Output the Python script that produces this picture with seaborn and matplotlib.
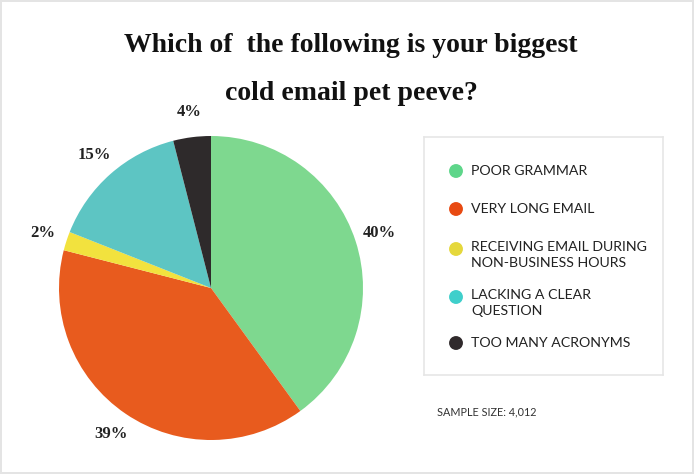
import matplotlib
matplotlib.use("Agg")
import matplotlib.pyplot as plt
import seaborn as sns

# ── data ──────────────────────────────────────────────────────────────────────
categories = [
    "POOR GRAMMAR",
    "VERY LONG EMAIL",
    "RECEIVING EMAIL DURING\nNON-BUSINESS HOURS",
    "LACKING A CLEAR\nQUESTION",
    "TOO MANY ACRONYMS",
]
shares = [40, 39, 2, 15, 4]
slice_colors = ["#7ED88F", "#E85B1E", "#F2E23E", "#5DC5C3", "#2E2A2B"]
legend_colors = ["#5ED68A", "#E84A12", "#E5D83C", "#3FCFCB", "#302A2C"]
sample_size = "4,012"

sns.set_style("white")
plt.rcParams["font.family"] = ["Lato", "DejaVu Sans"]

W, H = 694, 474
fig = plt.figure(figsize=(W / 100, H / 100), dpi=100)
fig.patch.set_edgecolor("#e4e4e4")
fig.patch.set_linewidth(1.5)


def px_axes(x0, y0, w, h):
    """axes placed by pixel box (top-left origin)"""
    return fig.add_axes([x0 / W, (H - y0 - h) / H, w / W, h / H])


# title
title_kw = dict(ha="center", va="center", fontsize=20, fontweight="bold",
                family="Liberation Serif", color="#111111")
fig.text(351 / W, 1 - 45 / H, "Which of  the following is your biggest", **title_kw)
fig.text(351 / W, 1 - 94 / H, "cold email pet peeve?", **title_kw)

# ── pie ───────────────────────────────────────────────────────────────────────
cx, cy, r = 211, 288, 152
ax = px_axes(cx - r, cy - r, 2 * r, 2 * r)
wedges, texts = ax.pie(
    shares, colors=slice_colors, startangle=90, counterclock=False,
    labels=[f"{v}%" for v in shares], labeldistance=1.165,
    wedgeprops=dict(linewidth=0),
    textprops=dict(family="Liberation Serif", fontweight="bold",
                   fontsize=12, color="#222222"),
)
for t in texts:
    t.set_ha("center")
    t.set_va("center")
ax.set_xlim(-1, 1)
ax.set_ylim(-1, 1)
ax.set_aspect("equal")
ax.axis("off")

# ── legend box (drawn by hand so markers sit on the first label line) ────────
box_w, box_h = 239, 238
lax = px_axes(424, 137, box_w, box_h)
lax.set_xlim(0, box_w)
lax.set_ylim(box_h, 0)
lax.set_xticks([])
lax.set_yticks([])
for sp in lax.spines.values():
    sp.set_color("#e6e6e6")
    sp.set_linewidth(1.2)

y = 34
for label, color in zip(categories, legend_colors):
    lines = label.split("\n")
    lax.scatter([32], [y + 2 * (len(lines) - 1)], s=100, color=color,
                edgecolor="none", zorder=3)
    for i, line in enumerate(lines):
        lax.text(47, y + 16 * i, line, ha="left", va="center",
                 fontsize=10.2, color="#222222")
    y += 38 + 10 * (len(lines) - 1)

fig.text(437 / W, 1 - 412 / H, f"SAMPLE SIZE: {sample_size}",
         ha="left", va="center", fontsize=7.8, color="#333333")

fig.savefig("out.png", dpi=100)
